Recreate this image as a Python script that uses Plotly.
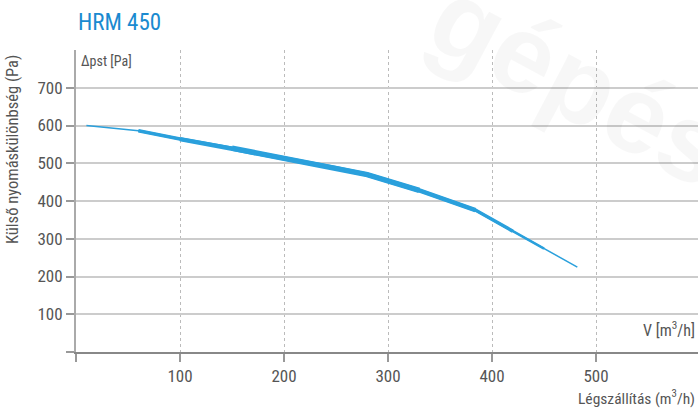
import plotly.graph_objects as go

# Data
airflow = [10, 60, 100, 150, 200, 250, 280, 330, 384, 420, 450, 482]
pressure = [600, 586, 564, 540, 513, 487, 470, 428, 376, 320, 274, 225]
x_ticks = [0, 100, 200, 300, 400, 500]
y_ticks = [0, 100, 200, 300, 400, 500, 600, 700]

BLUE = "#2aa0dc"
FONT = "Liberation Sans Narrow, Roboto Condensed, Roboto, sans-serif"

# Style: the curve is drawn as overlapping strokes so that it is thin at the ends
# and thicker in the middle: (first index, last index, width)
strokes = [(0, 11, 1.5), (1, 10, 2.5), (1, 9, 3.5), (2, 8, 4.5), (3, 7, 5.5)]

fig = go.Figure()
for a, b, w in strokes:
    fig.add_trace(go.Scatter(
        x=airflow[a:b + 1], y=pressure[a:b + 1], mode="lines",
        line=dict(color=BLUE, width=w),
        hoverinfo="skip", showlegend=False))

fig.update_layout(
    width=698, height=409,
    margin=dict(l=76, r=0, t=50, b=57),
    plot_bgcolor="rgba(0,0,0,0)", paper_bgcolor="white",
    font=dict(family=FONT, color="#555", size=17),
    showlegend=False,
    xaxis=dict(
        range=[0, 598], tickvals=x_ticks,
        ticktext=["" if v == 0 else str(v) for v in x_ticks],
        ticks="outside", ticklen=8, tickcolor="#999", tickwidth=1.5,
        showgrid=True, gridcolor="#bbb", griddash="dot", gridwidth=1,
        showline=True, linecolor="#888", linewidth=1.5,
        zeroline=False, tickfont=dict(size=17, color="#555"), automargin=False,
    ),
    yaxis=dict(
        range=[0, 800], tickvals=y_ticks,
        ticktext=["" if v == 0 else str(v) for v in y_ticks],
        ticks="outside", ticklen=8, tickcolor="#999", tickwidth=1.5,
        showgrid=True, gridcolor="#ccc", gridwidth=1.5,
        showline=True, linecolor="#aaa", linewidth=2,
        zeroline=False, tickfont=dict(size=17, color="#555"), automargin=False,
    ),
    annotations=[
        dict(text="<b>gépész</b>", x=0.85, y=0.85, xref="paper", yref="paper",
             yanchor="middle", xanchor="center", showarrow=False,
             font=dict(size=110, color="rgba(0,0,0,0.032)", family="Arial, DejaVu Sans"),
             textangle=28),
        dict(text="Külső nyomáskülönbség (Pa)", x=0, y=0.669, xref="paper", yref="paper",
             xanchor="center", yanchor="middle", xshift=-63, textangle=-90, showarrow=False,
             font=dict(size=16.5, color="#555")),
        dict(text="HRM 450", x=0, y=1.0, xref="paper", yref="paper", xanchor="left", yanchor="bottom",
             yshift=12, showarrow=False, font=dict(size=23, color="#1a8ad0")),
        dict(text="Δpst [Pa]", x=0.005, y=0.965, xref="paper", yref="paper", xanchor="left", yanchor="middle",
             showarrow=False, font=dict(size=14, color="#555")),
        dict(text="V [m<sup>3</sup>/h]", x=1, y=0.075, xref="paper", yref="paper", xanchor="right",
             xshift=-1, yanchor="middle", showarrow=False, font=dict(size=16, color="#555")),
        dict(text="Légszállítás (m<sup>3</sup>/h)", x=1, y=-0.15, xref="paper", yref="paper",
             xanchor="right", xshift=-1, yanchor="middle", showarrow=False, font=dict(size=15.5, color="#555")),
    ],
)

# remove the default page margin so the figure fills the window exactly
fig.write_html("out.html", config={"displayModeBar": False},
               post_script="document.body.style.margin='0';document.body.style.overflow='hidden';")
